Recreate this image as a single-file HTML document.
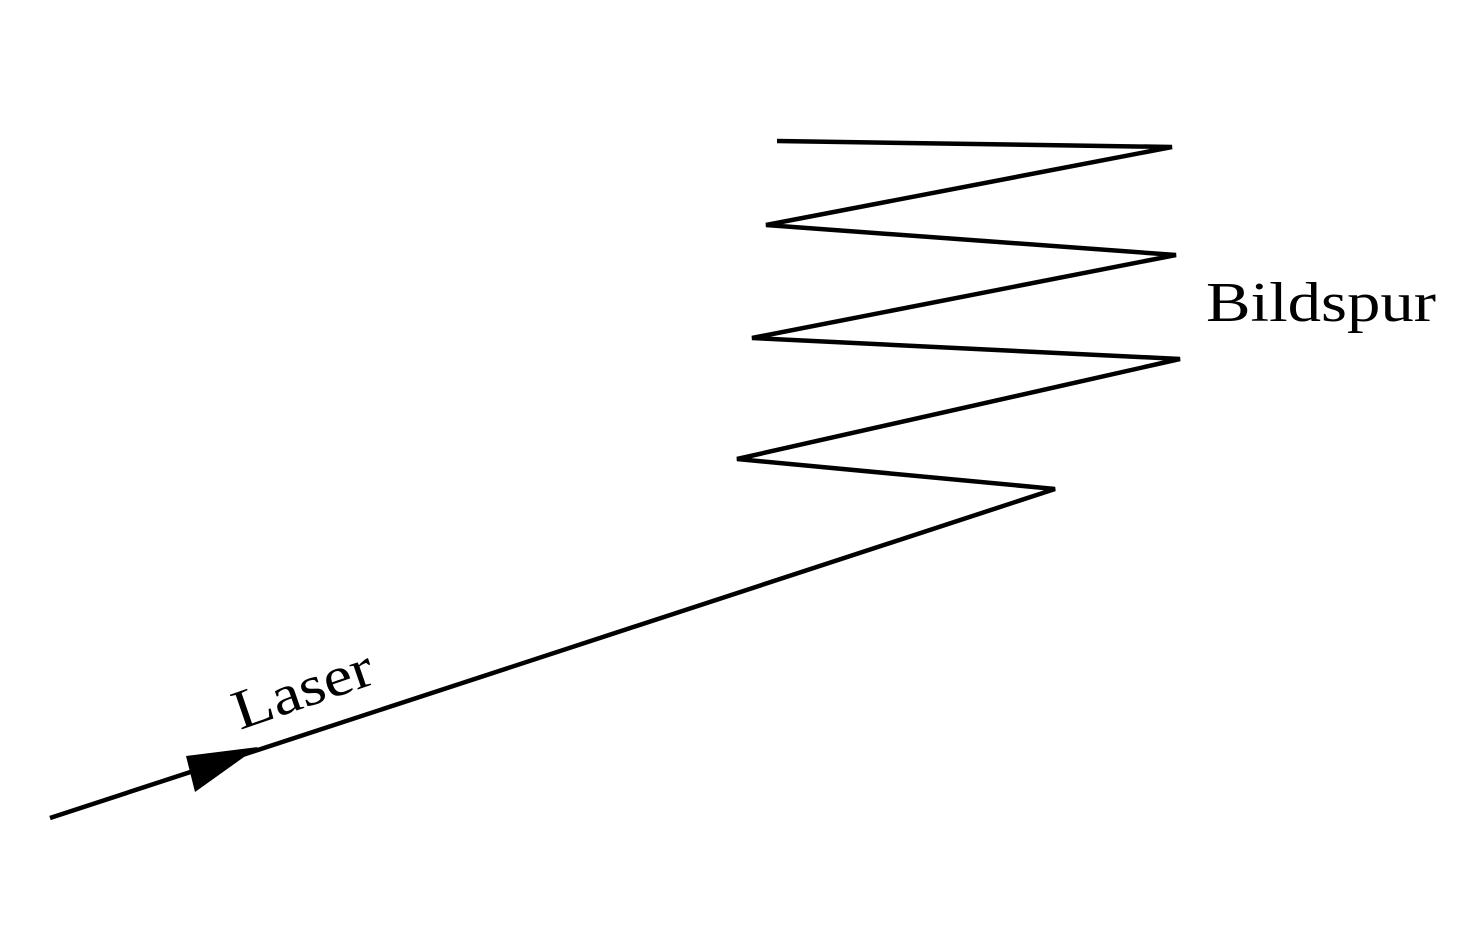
<!DOCTYPE html>
<html><head><meta charset="utf-8"><style>
html,body{margin:0;padding:0;background:#fff;}
svg{display:block;}
</style></head><body>
<svg width="1478" height="927" viewBox="0 0 1478 927" xmlns="http://www.w3.org/2000/svg">
<polyline fill="none" stroke="#000" stroke-width="4.5" stroke-linejoin="miter"
 points="50,818 1055,489 737,459 1180,359 752,338 1176,255 766,225 1172,147 777,141"/>
<polygon points="258,747 186,756 195,792" fill="#000"/>
<text x="0" y="0" transform="translate(240,730) rotate(-19)" font-family="Liberation Serif, serif" font-size="56" textLength="145" lengthAdjust="spacingAndGlyphs" fill="#000">Laser</text>
<text x="1206" y="321" font-family="Liberation Serif, serif" font-size="56" textLength="230" lengthAdjust="spacingAndGlyphs" fill="#000">Bildspur</text>
</svg>
</body></html>
